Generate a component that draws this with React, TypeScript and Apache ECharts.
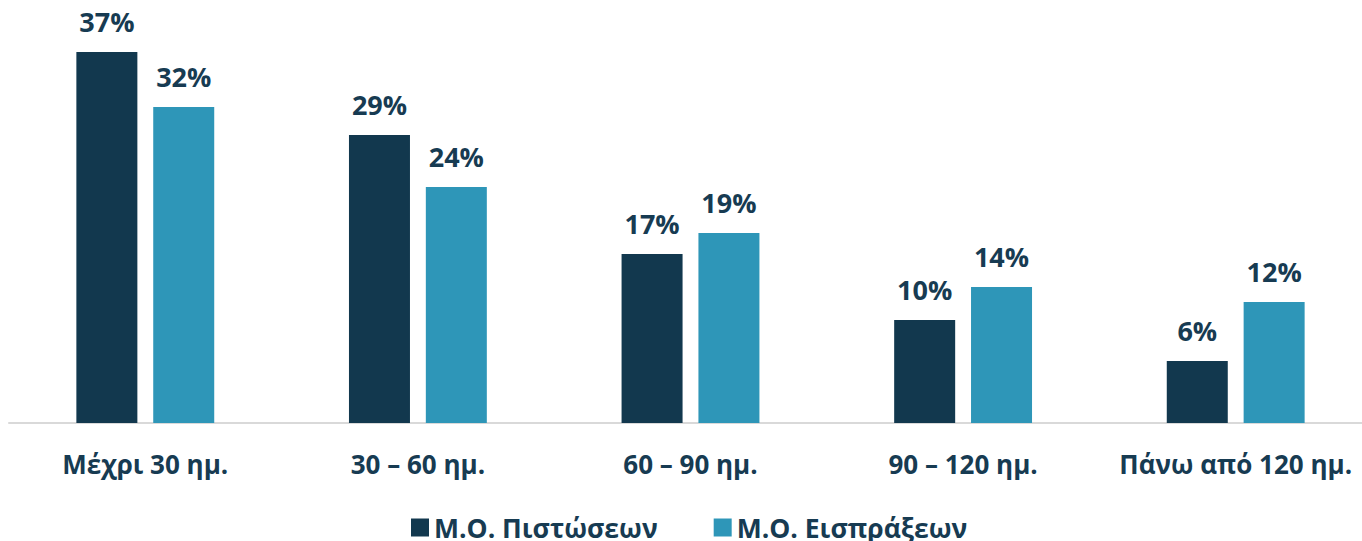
import React, { useEffect, useRef } from "react";
import * as echarts from "echarts";

const categories = ["Μέχρι 30 ημ.", "30 – 60 ημ.", "60 – 90 ημ.", "90 – 120 ημ.", "Πάνω από 120 ημ."];
const seriesNames = ["Μ.Ο. Πιστώσεων", "Μ.Ο. Εισπράξεων"];
const creditValues = [37.1, 28.8, 16.9, 10.3, 6.2];
const collectionValues = [31.6, 23.6, 19.0, 13.6, 12.1];

const DARK = "#12384e";
const LIGHT = "#2e96b8";
const TEXT = "#173b52";
const FONT = "'Open Sans', sans-serif";

export default function App() {
  const ref = useRef<HTMLDivElement>(null);
  useEffect(() => {
    if (!ref.current) return;
    const chart = echarts.init(ref.current, undefined, { renderer: "svg" });
    const label = {
      show: true,
      position: "top",
      distance: 17,
      formatter: (p: any) => Math.round(p.value) + "%",
      color: TEXT,
      fontFamily: FONT,
      fontWeight: "bold",
      fontSize: 27,
    };
    chart.setOption({
      animation: false,
      backgroundColor: "#ffffff",
      grid: { left: 9, right: 8, top: 23, bottom: 118, containLabel: false },
      legend: {
        top: 509,
        left: 406,
        itemWidth: 18,
        itemHeight: 18,
        itemGap: 56,
        icon: "rect",
        textStyle: { color: TEXT, fontFamily: FONT, fontWeight: "bold", fontSize: 26.5 },
        data: seriesNames,
      },
      xAxis: {
        type: "category",
        data: categories,
        axisLine: { show: true, lineStyle: { color: "#d9d9d9", width: 2 } },
        axisTick: { show: false },
        axisLabel: { interval: 0, color: TEXT, fontFamily: FONT, fontWeight: "bold", fontSize: 26, margin: 28 },
      },
      yAxis: {
        type: "value",
        min: 0,
        max: 40,
        show: false,
        splitLine: { show: false },
      },
      series: [
        {
          name: seriesNames[0],
          type: "bar",
          data: creditValues,
          barWidth: 61,
          barGap: "26%",
          itemStyle: { color: DARK },
          label,
        },
        {
          name: seriesNames[1],
          type: "bar",
          data: collectionValues,
          barWidth: 61,
          barGap: "26%",
          itemStyle: { color: LIGHT },
          label,
        },
      ],
    });
    return () => chart.dispose();
  }, []);
  return (
    <div
      style={{ position: "absolute", left: 0, top: 0, width: 1362, height: 541, overflow: "hidden", background: "#fff" }}
    >
      <div ref={ref} style={{ width: 1380, height: 541 }} />
    </div>
  );
}
